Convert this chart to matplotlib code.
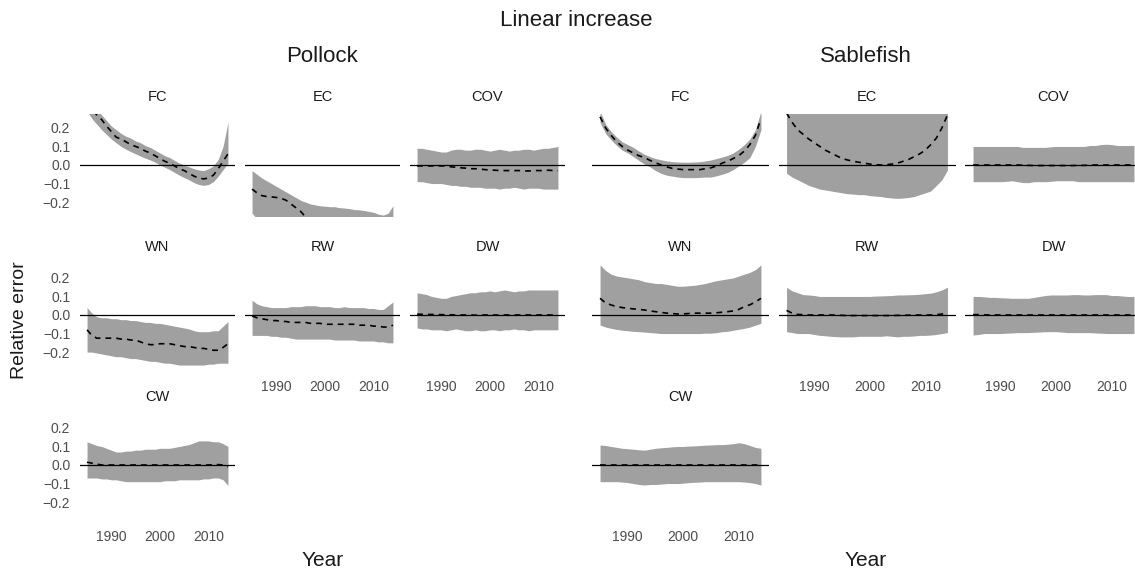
import matplotlib
matplotlib.use("Agg")
import matplotlib.pyplot as plt

plt.rcParams['font.family'] = ['Liberation Sans', 'DejaVu Sans']

years = list(range(1985, 2015))

# ---------------- Pollock ----------------
pollock_fc_med = [0.34, 0.30, 0.27, 0.245, 0.21, 0.18, 0.15, 0.14, 0.125, 0.11, 0.10, 0.09, 0.075, 0.065, 0.05,
                  0.035, 0.02, 0.01, -0.005, -0.02, -0.03, -0.045, -0.06, -0.07, -0.075, -0.07, -0.055, -0.02, 0.02, 0.06]
pollock_fc_hi = [0.38, 0.34, 0.30, 0.27, 0.24, 0.21, 0.19, 0.17, 0.155, 0.145, 0.13, 0.12, 0.105, 0.095, 0.08,
                 0.065, 0.05, 0.04, 0.025, 0.01, 0.0, -0.01, -0.02, -0.027, -0.03, -0.02, -0.005, 0.03, 0.10, 0.23]
pollock_fc_lo = [0.29, 0.25, 0.22, 0.19, 0.165, 0.14, 0.12, 0.10, 0.085, 0.072, 0.06, 0.048, 0.037, 0.027, 0.015,
                 0.0, -0.012, -0.025, -0.04, -0.055, -0.068, -0.08, -0.095, -0.105, -0.11, -0.105, -0.09, -0.06, -0.025, 0.01]

pollock_ec_med = [-0.13, -0.15, -0.165, -0.17, -0.172, -0.175, -0.18, -0.19, -0.21, -0.23, -0.25, -0.28, -0.29, -0.30, -0.30,
                  -0.31, -0.31, -0.32, -0.32, -0.32, -0.33, -0.33, -0.33, -0.33, -0.34, -0.34, -0.34, -0.34, -0.33, -0.31]
pollock_ec_hi = [-0.03, -0.05, -0.07, -0.085, -0.10, -0.115, -0.13, -0.145, -0.16, -0.175, -0.19, -0.20, -0.21, -0.215, -0.22,
                 -0.222, -0.225, -0.225, -0.23, -0.232, -0.235, -0.24, -0.242, -0.245, -0.25, -0.255, -0.265, -0.27, -0.26, -0.22]
pollock_ec_lo = [-0.26, -0.29, -0.31, -0.33, -0.35, -0.36, -0.37, -0.38, -0.39, -0.40, -0.41, -0.42, -0.43, -0.44, -0.44,
                 -0.45, -0.45, -0.46, -0.46, -0.46, -0.47, -0.47, -0.47, -0.48, -0.48, -0.48, -0.48, -0.48, -0.47, -0.45]

pollock_cov_med = [-0.005, -0.005, -0.005, -0.005, -0.005, -0.005, -0.005, -0.01, -0.012, -0.015, -0.017, -0.02, -0.02, -0.022, -0.025,
                   -0.027, -0.028, -0.03, -0.03, -0.03, -0.03, -0.03, -0.032, -0.032, -0.03, -0.03, -0.03, -0.028, -0.03, -0.03]
pollock_cov_hi = [0.09, 0.09, 0.085, 0.08, 0.075, 0.07, 0.07, 0.08, 0.085, 0.085, 0.08, 0.08, 0.085, 0.085, 0.08,
                  0.075, 0.08, 0.085, 0.08, 0.075, 0.08, 0.08, 0.085, 0.085, 0.08, 0.085, 0.09, 0.09, 0.095, 0.10]
pollock_cov_lo = [-0.09, -0.09, -0.095, -0.10, -0.10, -0.10, -0.105, -0.11, -0.11, -0.115, -0.115, -0.12, -0.12, -0.12, -0.125,
                  -0.125, -0.125, -0.13, -0.125, -0.125, -0.12, -0.125, -0.13, -0.125, -0.125, -0.125, -0.13, -0.13, -0.13, -0.13]

pollock_wn_med = [-0.08, -0.11, -0.125, -0.125, -0.125, -0.125, -0.125, -0.13, -0.13, -0.135, -0.135, -0.145, -0.155, -0.16, -0.16,
                  -0.155, -0.155, -0.155, -0.16, -0.165, -0.17, -0.17, -0.175, -0.18, -0.18, -0.185, -0.19, -0.19, -0.175, -0.155]
pollock_wn_hi = [0.04, 0.01, -0.01, -0.015, -0.015, -0.02, -0.02, -0.025, -0.025, -0.03, -0.03, -0.035, -0.04, -0.04, -0.045,
                 -0.045, -0.05, -0.055, -0.06, -0.065, -0.07, -0.075, -0.085, -0.09, -0.09, -0.09, -0.085, -0.085, -0.06, -0.035]
pollock_wn_lo = [-0.20, -0.20, -0.205, -0.21, -0.215, -0.22, -0.225, -0.225, -0.23, -0.235, -0.235, -0.24, -0.245, -0.25, -0.25,
                 -0.255, -0.26, -0.26, -0.265, -0.27, -0.27, -0.27, -0.27, -0.27, -0.27, -0.265, -0.265, -0.26, -0.26, -0.26]

pollock_rw_med = [-0.005, -0.015, -0.02, -0.025, -0.03, -0.03, -0.035, -0.035, -0.04, -0.04, -0.04, -0.04, -0.045, -0.045, -0.045,
                  -0.05, -0.05, -0.05, -0.05, -0.05, -0.05, -0.05, -0.055, -0.055, -0.055, -0.06, -0.06, -0.065, -0.065, -0.055]
pollock_rw_hi = [0.08, 0.06, 0.05, 0.045, 0.04, 0.04, 0.04, 0.04, 0.045, 0.045, 0.045, 0.05, 0.05, 0.05, 0.045,
                 0.045, 0.045, 0.04, 0.04, 0.045, 0.04, 0.04, 0.04, 0.04, 0.035, 0.035, 0.03, 0.03, 0.05, 0.07]
pollock_rw_lo = [-0.11, -0.11, -0.11, -0.11, -0.115, -0.115, -0.12, -0.12, -0.125, -0.13, -0.13, -0.13, -0.13, -0.13, -0.13,
                 -0.13, -0.13, -0.135, -0.135, -0.135, -0.135, -0.135, -0.14, -0.14, -0.14, -0.14, -0.145, -0.145, -0.15, -0.15]

pollock_dw_med = [0.004, 0.004, 0.003, 0.003, 0.002, 0.002, 0.001, 0.001, 0.0, 0.0, 0.0, 0.0, -0.001, -0.001, 0.0,
                  0.0, 0.0, -0.001, 0.0, 0.0, 0.0, 0.0, 0.0, 0.0, 0.0, 0.0, 0.0, 0.0, 0.0, 0.0]
pollock_dw_hi = [0.12, 0.115, 0.11, 0.10, 0.095, 0.09, 0.09, 0.10, 0.105, 0.11, 0.115, 0.12, 0.12, 0.125, 0.125,
                 0.13, 0.125, 0.13, 0.135, 0.13, 0.125, 0.13, 0.13, 0.135, 0.135, 0.135, 0.135, 0.135, 0.135, 0.135]
pollock_dw_lo = [-0.07, -0.075, -0.075, -0.08, -0.08, -0.08, -0.085, -0.08, -0.075, -0.08, -0.085, -0.085, -0.08, -0.085, -0.085,
                 -0.08, -0.08, -0.085, -0.08, -0.08, -0.075, -0.08, -0.08, -0.085, -0.08, -0.08, -0.08, -0.08, -0.08, -0.08]

pollock_cw_med = [0.015, 0.01, 0.005, 0.0, 0.0, 0.0, 0.0, 0.0, 0.0, 0.0, 0.0, 0.0, 0.0, 0.0, 0.0,
                  0.0, 0.0, 0.0, 0.0, 0.0, 0.0, 0.0, 0.0, 0.0, 0.0, 0.0, 0.002, 0.002, 0.0, -0.01]
pollock_cw_hi = [0.125, 0.115, 0.105, 0.10, 0.09, 0.08, 0.07, 0.07, 0.075, 0.075, 0.08, 0.08, 0.085, 0.085, 0.085,
                 0.09, 0.09, 0.09, 0.095, 0.10, 0.105, 0.11, 0.12, 0.13, 0.13, 0.13, 0.125, 0.125, 0.115, 0.10]
pollock_cw_lo = [-0.07, -0.07, -0.07, -0.075, -0.075, -0.08, -0.08, -0.085, -0.09, -0.09, -0.09, -0.09, -0.09, -0.09, -0.09,
                 -0.09, -0.085, -0.085, -0.085, -0.08, -0.08, -0.08, -0.08, -0.08, -0.075, -0.075, -0.07, -0.07, -0.08, -0.11]

# ---------------- Sablefish ----------------
sable_fc_med = [0.26, 0.20, 0.16, 0.125, 0.10, 0.08, 0.065, 0.05, 0.04, 0.025, 0.012, 0.0, -0.01, -0.018, -0.022,
                -0.025, -0.025, -0.025, -0.025, -0.02, -0.015, -0.005, 0.01, 0.02, 0.035, 0.05, 0.075, 0.11, 0.16, 0.25]
sable_fc_hi = [0.29, 0.22, 0.18, 0.15, 0.125, 0.11, 0.095, 0.075, 0.058, 0.045, 0.035, 0.028, 0.022, 0.018, 0.016,
               0.015, 0.015, 0.016, 0.018, 0.022, 0.027, 0.035, 0.043, 0.052, 0.065, 0.085, 0.11, 0.14, 0.19, 0.29]
sable_fc_lo = [0.23, 0.17, 0.135, 0.105, 0.08, 0.065, 0.045, 0.025, 0.005, -0.01, -0.03, -0.045, -0.055, -0.06, -0.065,
               -0.068, -0.068, -0.068, -0.067, -0.065, -0.065, -0.058, -0.05, -0.04, -0.025, -0.005, 0.015, 0.04, 0.10, 0.19]

sable_ec_med = [0.28, 0.23, 0.19, 0.165, 0.14, 0.12, 0.10, 0.08, 0.065, 0.05, 0.035, 0.027, 0.02, 0.015, 0.01,
                0.005, 0.002, 0.0, 0.002, 0.005, 0.01, 0.02, 0.03, 0.045, 0.06, 0.08, 0.11, 0.145, 0.20, 0.27]
sable_ec_hi = [0.60, 0.55, 0.52, 0.50, 0.48, 0.46, 0.45, 0.44, 0.43, 0.42, 0.41, 0.40, 0.40, 0.39, 0.39,
               0.39, 0.39, 0.39, 0.39, 0.40, 0.40, 0.41, 0.42, 0.43, 0.44, 0.46, 0.48, 0.51, 0.55, 0.60]
sable_ec_lo = [-0.045, -0.065, -0.08, -0.095, -0.11, -0.12, -0.13, -0.135, -0.14, -0.145, -0.15, -0.155, -0.157, -0.16, -0.16,
               -0.165, -0.168, -0.17, -0.175, -0.178, -0.18, -0.178, -0.175, -0.17, -0.16, -0.15, -0.14, -0.11, -0.08, -0.027]

sable_cov_med = [0.0, 0.0, 0.0, 0.0, 0.0, 0.0, 0.0, 0.0, 0.0, -0.001, -0.002, -0.003, -0.003, -0.003, -0.003,
                 -0.003, -0.003, -0.003, -0.003, -0.002, -0.002, -0.001, 0.0, 0.0, 0.0, 0.0, 0.0, 0.0, 0.0, 0.0]
sable_cov_hi = [0.10, 0.10, 0.10, 0.10, 0.10, 0.10, 0.10, 0.10, 0.10, 0.095, 0.095, 0.095, 0.095, 0.095, 0.098,
                0.10, 0.10, 0.10, 0.10, 0.10, 0.10, 0.105, 0.105, 0.11, 0.112, 0.11, 0.105, 0.105, 0.105, 0.105]
sable_cov_lo = [-0.09, -0.09, -0.09, -0.09, -0.09, -0.09, -0.088, -0.085, -0.09, -0.095, -0.095, -0.09, -0.09, -0.09, -0.088,
                -0.085, -0.085, -0.085, -0.085, -0.09, -0.09, -0.09, -0.09, -0.09, -0.09, -0.09, -0.09, -0.09, -0.09, -0.09]

sable_wn_med = [0.09, 0.065, 0.054, 0.045, 0.04, 0.036, 0.033, 0.03, 0.027, 0.022, 0.018, 0.014, 0.01, 0.008, 0.005,
                0.006, 0.008, 0.01, 0.01, 0.01, 0.01, 0.012, 0.015, 0.018, 0.022, 0.03, 0.045, 0.055, 0.07, 0.09]
sable_wn_hi = [0.27, 0.24, 0.22, 0.21, 0.205, 0.20, 0.195, 0.19, 0.18, 0.175, 0.17, 0.17, 0.165, 0.16, 0.155,
               0.155, 0.158, 0.16, 0.165, 0.17, 0.178, 0.185, 0.19, 0.195, 0.20, 0.21, 0.22, 0.23, 0.245, 0.27]
sable_wn_lo = [-0.054, -0.065, -0.072, -0.078, -0.082, -0.085, -0.088, -0.09, -0.092, -0.095, -0.097, -0.10, -0.10, -0.10, -0.10,
               -0.10, -0.10, -0.10, -0.10, -0.098, -0.098, -0.095, -0.09, -0.088, -0.082, -0.077, -0.072, -0.065, -0.055, -0.045]

sable_rw_med = [0.025, 0.01, 0.003, 0.002, 0.0, 0.0, 0.0, 0.0, 0.0, -0.001, -0.002, -0.003, -0.003, -0.003, -0.003,
                -0.003, -0.003, -0.003, -0.003, -0.003, -0.002, -0.002, -0.001, 0.0, 0.0, 0.0, 0.0, 0.002, 0.005, 0.013]
sable_rw_hi = [0.15, 0.13, 0.12, 0.11, 0.108, 0.105, 0.10, 0.10, 0.10, 0.10, 0.10, 0.10, 0.10, 0.10, 0.10,
               0.10, 0.102, 0.103, 0.104, 0.105, 0.108, 0.108, 0.109, 0.11, 0.112, 0.115, 0.118, 0.125, 0.135, 0.15]
sable_rw_lo = [-0.09, -0.095, -0.10, -0.10, -0.10, -0.105, -0.11, -0.112, -0.115, -0.117, -0.118, -0.118, -0.118, -0.115, -0.115,
               -0.115, -0.115, -0.115, -0.112, -0.115, -0.118, -0.115, -0.115, -0.113, -0.11, -0.11, -0.108, -0.105, -0.10, -0.095]

sable_dw_med = [0.002, 0.002, 0.001, 0.0, 0.0, 0.0, 0.0, 0.0, 0.0, 0.0, 0.0, 0.0, 0.0, 0.0, 0.0,
                0.0, 0.0, 0.0, 0.0, 0.0, 0.0, 0.0, 0.0, 0.0, 0.0, 0.0, 0.0, 0.0, 0.0, 0.0]
sable_dw_hi = [0.10, 0.10, 0.098, 0.095, 0.095, 0.093, 0.092, 0.09, 0.09, 0.09, 0.09, 0.095, 0.10, 0.105, 0.108,
               0.108, 0.108, 0.108, 0.11, 0.11, 0.108, 0.108, 0.11, 0.11, 0.11, 0.105, 0.105, 0.102, 0.10, 0.10]
sable_dw_lo = [-0.108, -0.105, -0.10, -0.10, -0.10, -0.10, -0.098, -0.097, -0.095, -0.095, -0.095, -0.093, -0.092, -0.09, -0.09,
               -0.09, -0.092, -0.095, -0.095, -0.095, -0.095, -0.095, -0.097, -0.098, -0.10, -0.10, -0.10, -0.10, -0.10, -0.10]

sable_cw_med = [0.0, 0.0, 0.0, 0.0, 0.0, 0.0, 0.0, 0.0, 0.0, 0.0, 0.0, 0.0, 0.0, 0.0, 0.0,
                0.0, 0.0, 0.0, 0.0, 0.0, 0.0, 0.0, 0.0, 0.0, 0.0, 0.0, 0.0, 0.0, 0.0, 0.0]
sable_cw_hi = [0.108, 0.105, 0.10, 0.095, 0.09, 0.088, 0.085, 0.082, 0.08, 0.085, 0.09, 0.093, 0.095, 0.098, 0.10,
               0.10, 0.102, 0.103, 0.105, 0.107, 0.108, 0.11, 0.11, 0.112, 0.115, 0.12, 0.115, 0.105, 0.095, 0.09]
sable_cw_lo = [-0.09, -0.09, -0.09, -0.09, -0.092, -0.095, -0.10, -0.105, -0.108, -0.105, -0.105, -0.103, -0.10, -0.10, -0.10,
               -0.098, -0.095, -0.093, -0.092, -0.09, -0.09, -0.09, -0.09, -0.09, -0.09, -0.09, -0.092, -0.095, -0.10, -0.108]

panel_names = ["FC", "EC", "COV", "WN", "RW", "DW", "CW"]
group_titles = ["Pollock", "Sablefish"]
y_ticks = [-0.2, -0.1, 0.0, 0.1, 0.2]
y_tick_labels = ["\u22120.2", "\u22120.1", "0.0", "0.1", "0.2"]
x_ticks = [1990, 2000, 2010]

pollock = {
    "FC": (pollock_fc_med, pollock_fc_lo, pollock_fc_hi),
    "EC": (pollock_ec_med, pollock_ec_lo, pollock_ec_hi),
    "COV": (pollock_cov_med, pollock_cov_lo, pollock_cov_hi),
    "WN": (pollock_wn_med, pollock_wn_lo, pollock_wn_hi),
    "RW": (pollock_rw_med, pollock_rw_lo, pollock_rw_hi),
    "DW": (pollock_dw_med, pollock_dw_lo, pollock_dw_hi),
    "CW": (pollock_cw_med, pollock_cw_lo, pollock_cw_hi),
}
sable = {
    "FC": (sable_fc_med, sable_fc_lo, sable_fc_hi),
    "EC": (sable_ec_med, sable_ec_lo, sable_ec_hi),
    "COV": (sable_cov_med, sable_cov_lo, sable_cov_hi),
    "WN": (sable_wn_med, sable_wn_lo, sable_wn_hi),
    "RW": (sable_rw_med, sable_rw_lo, sable_rw_hi),
    "DW": (sable_dw_med, sable_dw_lo, sable_dw_hi),
    "CW": (sable_cw_med, sable_cw_lo, sable_cw_hi),
}

W, H = 1135, 574
fig = plt.figure(figsize=(W / 100, H / 100), dpi=100)
fig.patch.set_facecolor("white")

BAND = "#a0a0a0"
TICKC = "#4d4d4d"
row_tops = [114, 264, 414]
ph = 102

groups = [
    (pollock, [80, 245, 410], 155, True),
    (sable, [592, 778.5, 965], 177, False),
]

xpad = 1.45
for data, lefts, pw, show_y in groups:
    for idx, name in enumerate(panel_names):
        r, c = divmod(idx, 3)
        left = lefts[c]
        top = row_tops[r]
        ax = fig.add_axes([left / W, 1 - (top + ph) / H, pw / W, ph / H])
        med, lo, hi = data[name]
        ax.fill_between(years, lo, hi, color=BAND, linewidth=0, zorder=1)
        ax.axhline(0, color="black", linewidth=0.9, zorder=2)
        ax.plot(years, med, color="black", linewidth=1.2, linestyle=(0, (3.5, 3)), zorder=3)
        ax.set_xlim(years[0] - xpad, years[-1] + xpad)
        ax.set_ylim(-0.275, 0.275)
        for s in ax.spines.values():
            s.set_visible(False)
        ax.set_facecolor("none")
        ax.tick_params(length=0)
        ax.set_yticks(y_ticks)
        if show_y and c == 0:
            ax.set_yticklabels(y_tick_labels, fontsize=10, color=TICKC)
            ax.tick_params(axis="y", pad=7)
        else:
            ax.set_yticklabels([])
        ax.set_xticks(x_ticks)
        has_below = (idx + 3) < len(panel_names)
        if not has_below:
            ax.set_xticklabels([str(t) for t in x_ticks], fontsize=10, color=TICKC)
            ax.tick_params(axis="x", pad=10)
        else:
            ax.set_xticklabels([])
        fig.text((left + pw / 2) / W, 1 - (top - 17) / H, name, ha="center", va="center",
                 fontsize=10.5, color="#1a1a1a")

fig.text(576 / W, 1 - 21 / H, "Linear increase", ha="center", va="center", fontsize=16, color="#1a1a1a")
fig.text(322.5 / W, 1 - 56 / H, group_titles[0], ha="center", va="center", fontsize=16, color="#1a1a1a")
fig.text(866 / W, 1 - 56 / H, group_titles[1], ha="center", va="center", fontsize=16, color="#1a1a1a")
fig.text(322.5 / W, 1 - 560 / H, "Year", ha="center", va="center", fontsize=15, color="#1a1a1a")
fig.text(866 / W, 1 - 560 / H, "Year", ha="center", va="center", fontsize=15, color="#1a1a1a")
fig.text(20 / W, 1 - 320 / H, "Relative error", ha="center", va="center", rotation=90, fontsize=14, color="#1a1a1a")

fig.savefig("out.png", dpi=100, facecolor="white")
